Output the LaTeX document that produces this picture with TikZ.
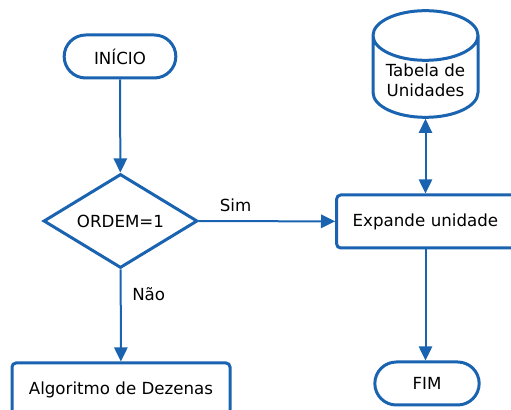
\documentclass[tikz,border=0pt]{standalone}
\usepackage{fontspec}
\setmainfont{DejaVu Sans}
\usepackage{tikz}
\usetikzlibrary{arrows.meta,positioning,shapes.geometric,shapes.misc}

\definecolor{fluxo}{HTML}{1A63B0}

\begin{document}
\begin{tikzpicture}[
  x=0.6pt, y=-0.6pt,
  font=\fontsize{10}{12}\selectfont,
  terminal/.style={draw=fluxo, rounded rectangle, line width=1.8pt,
                   minimum height=25.8pt, inner sep=2pt},
  decisao/.style={draw=fluxo, diamond, aspect=1.64, line width=1.8pt,
                  minimum width=92.4pt, minimum height=56.4pt, inner sep=0pt},
  processo/.style={draw=fluxo, rectangle, rounded corners=2.4pt, line width=1.8pt,
                   minimum height=31.8pt, align=center},
  dados/.style={draw=fluxo, cylinder, shape border rotate=90, shape aspect=0.6,
                line width=1.8pt, minimum width=63pt, minimum height=64pt,
                align=center, inner sep=1pt, anchor=shape center},
  arr/.style={-{Triangle[length=8.5pt,width=8pt]}, draw=fluxo, line width=1.2pt},
  arr2/.style={{Triangle[length=8.5pt,width=8pt]}-{Triangle[length=8.5pt,width=8pt]},
               draw=fluxo, line width=1.2pt}
]
\clip (0,0) rectangle (511,410);
\useasboundingbox (0,0) rectangle (511,410);
\node[terminal, minimum width=71pt] (inicio) at (120,56.5) {INÍCIO};
\node[decisao] (ordem) at (120.5,221) {ORDEM=1};
\node[processo, minimum width=130.8pt] (dezenas) at (121,389.5) {Algoritmo de Dezenas};
\node[processo, align=left, text width=94pt, inner xsep=9.6pt] (expande) at (431,221.5) {Expande unidade};
\node[dados] (tabela) at (425.5,64) {Tabela de\\Unidades};
\node[terminal, minimum width=66.6pt] (fim) at (427,383.5) {FIM};
\draw[arr] (inicio) -- (ordem);
\draw[arr] (ordem) -- node[pos=0.27, above=2pt] (sim) {Sim} (expande);
\draw[arr] (ordem) -- node[pos=0.27, right=3pt] (nao) {Não} (dezenas);
\draw[arr2] (expande.north -| tabela.south) -- (tabela.south);
\draw[arr] (expande.south -| tabela.south) -- (fim.north -| tabela.south);
\end{tikzpicture}
\end{document}
